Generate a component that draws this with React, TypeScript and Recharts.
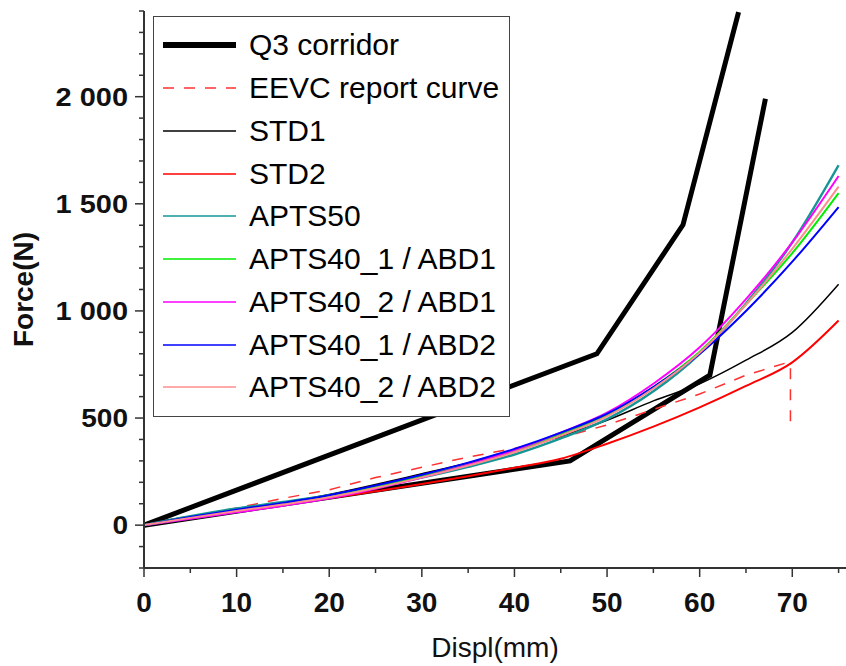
import React from 'react';
import { LineChart, Line, XAxis, YAxis, Legend } from 'recharts';

// ---- data ----
const displ = [0, 5, 10, 15, 20, 25, 30, 35, 40, 45, 50, 55, 60, 65, 70, 75];
const std1 = [0, 38, 72, 105, 143, 190, 240, 290, 345, 415, 490, 580, 660, 770, 900, 1125];
const std2 = [0, 35, 65, 95, 125, 158, 192, 228, 268, 310, 380, 460, 550, 650, 760, 955];
const apts50 = [0, 42, 78, 108, 140, 178, 222, 272, 330, 405, 495, 625, 800, 1035, 1320, 1680];
const apts40_1_abd1 = [0, 36, 70, 100, 135, 178, 228, 283, 346, 425, 515, 645, 810, 1030, 1270, 1550];
const apts40_2_abd1 = [0, 30, 60, 90, 125, 170, 222, 282, 350, 432, 525, 660, 830, 1055, 1320, 1630];
const apts40_1_abd2 = [0, 38, 72, 104, 140, 185, 235, 292, 356, 432, 520, 645, 800, 1000, 1230, 1485];
const apts40_2_abd2 = [0, 34, 66, 96, 130, 173, 223, 278, 340, 418, 508, 638, 805, 1030, 1290, 1580];

const q3UpperX = [0, 48.9, 58.2, 64.2];
const q3UpperF = [0, 800, 1402, 2395];
const q3LowerX = [0, 46, 61.1, 67.1];
const q3LowerF = [0, 300, 700, 1990];

const eevcX = [0, 5, 10, 15, 20, 25, 30, 35, 40, 45, 50, 55, 60, 65, 69.3, 69.8, 69.8];
const eevcF = [0, 38, 80, 125, 165, 222, 270, 318, 358, 408, 468, 540, 612, 700, 757, 750, 448];

const xTicks = [0, 5, 10, 15, 20, 25, 30, 35, 40, 45, 50, 55, 60, 65, 70, 75];
const yTicks = [-200, -100, 0, 100, 200, 300, 400, 500, 600, 700, 800, 900, 1000, 1100, 1200, 1300, 1400, 1500, 1600, 1700, 1800, 1900, 2000, 2100, 2200, 2300, 2400];
const yMajor = [0, 500, 1000, 1500, 2000];
const xMajor = [0, 10, 20, 30, 40, 50, 60, 70];

const seriesNames = [
  'Q3 corridor',
  'EEVC report curve',
  'STD1',
  'STD2',
  'APTS50',
  'APTS40_1 / ABD1',
  'APTS40_2 / ABD1',
  'APTS40_1 / ABD2',
  'APTS40_2 / ABD2',
];

const zip = (xs: number[], ys: number[]) => xs.map((x, i) => ({ x, y: ys[i] }));

const FONT = '"Liberation Sans", Arial, sans-serif';

const legendStyles = [
  { color: '#000000', width: 6, dash: undefined as string | undefined },
  { color: '#ff3030', width: 1.5, dash: '11 10' },
  { color: '#000000', width: 1.5, dash: undefined },
  { color: '#ff0000', width: 1.5, dash: undefined },
  { color: '#169595', width: 1.5, dash: undefined },
  { color: '#00ee00', width: 1.5, dash: undefined },
  { color: '#ff00ff', width: 1.5, dash: undefined },
  { color: '#0000ff', width: 1.5, dash: undefined },
  { color: '#ff8c8c', width: 1.5, dash: undefined },
];

const fmt = (v: number) =>
  v >= 1000 ? `${Math.floor(v / 1000)} ${String(v % 1000).padStart(3, '0')}` : String(v);

const YTick = (props: any) => {
  const { x, y, payload } = props;
  const v = payload.value;
  const major = yMajor.includes(v);
  const label = fmt(v);
  const digits = label.replace(/ /g, '').length;
  const spaces = label.length - digits;
  const len = digits * 15.6 + spaces * 10;
  return (
    <g>
      <line x1={x - (major ? 9 : 5)} x2={x} y1={y} y2={y} stroke="#333" strokeWidth={1.5} />
      {major && (
        <text
          x={x - 16}
          y={y + 9}
          textAnchor="end"
          fontSize={25.5}
          fontWeight="bold"
          fill="#111"
          fontFamily={FONT}
          textLength={len}
          lengthAdjust="spacingAndGlyphs"
        >
          {label}
        </text>
      )}
    </g>
  );
};

const XTick = (props: any) => {
  const { x, y, payload } = props;
  const v = payload.value;
  const major = xMajor.includes(v);
  return (
    <g>
      <line x1={x} x2={x} y1={y} y2={y + (major ? 9 : 5)} stroke="#333" strokeWidth={1.5} />
      {major && (
        <text x={x} y={y + 44} textAnchor="middle" fontSize={28} fontWeight="bold" fill="#111" fontFamily={FONT}>
          {v}
        </text>
      )}
    </g>
  );
};

const YTitle = (props: any) => {
  const vb = props.viewBox || { x: 0, y: 11, width: 144, height: 557 };
  const cx = 33;
  const cy = vb.y + vb.height / 2;
  return (
    <text x={cx} y={cy} transform={`rotate(-90, ${cx}, ${cy})`} textAnchor="middle" fontSize={28} fontWeight="bold" fill="#111" fontFamily={FONT}>
      Force(N)
    </text>
  );
};

const XTitle = (props: any) => {
  const vb = props.viewBox || { x: 144, y: 568, width: 702, height: 98 };
  const cx = vb.x + vb.width / 2;
  return (
    <text x={cx} y={657} textAnchor="middle" fontSize={28} fill="#111" fontFamily={FONT}>
      Displ(mm)
    </text>
  );
};

const LegendBox = () => (
  <div
    style={{
      width: 357,
      height: 401,
      boxSizing: 'border-box',
      border: '1.5px solid #444',
      background: '#fff',
      paddingTop: 7,
      fontFamily: FONT,
    }}
  >
    {seriesNames.map((name, i) => {
      const st = legendStyles[i];
      return (
        <div key={name} style={{ height: 42.75, display: 'flex', alignItems: 'center' }}>
          <svg width={95} height={20} style={{ display: 'block', flex: 'none' }}>
            <line x1={9} x2={82} y1={10} y2={10} stroke={st.color} strokeWidth={st.width} strokeDasharray={st.dash} />
          </svg>
          <span style={{ fontSize: 30, lineHeight: 1, color: '#000', whiteSpace: 'nowrap' }}>{name}</span>
        </div>
      );
    })}
  </div>
);

export default function App() {
  const apts = [apts50, apts40_1_abd1, apts40_2_abd1, apts40_1_abd2, apts40_2_abd2];
  return (
    <div style={{ position: 'absolute', left: 0, top: 0, background: '#fff' }}>
      <LineChart width={846} height={666} margin={{ top: 11, right: 0, bottom: 0, left: 0 }}>
        <XAxis
          type="number"
          dataKey="x"
          domain={[0, 75.8]}
          ticks={xTicks}
          interval={0}
          allowDataOverflow
          tickSize={0}
          tickMargin={0}
          tickLine={false}
          axisLine={{ stroke: '#333', strokeWidth: 2 }}
          tick={<XTick />}
          height={98}
          label={<XTitle />}
        />
        <YAxis
          type="number"
          dataKey="y"
          domain={[-200, 2400]}
          ticks={yTicks}
          interval={0}
          allowDataOverflow
          tickSize={0}
          tickMargin={0}
          tickLine={false}
          axisLine={{ stroke: '#333', strokeWidth: 2 }}
          tick={<YTick />}
          width={144}
          label={<YTitle />}
        />
        <Legend
          layout="horizontal"
          verticalAlign="middle"
          align="center"
          content={<LegendBox />}
          wrapperStyle={{ position: 'absolute', left: 153, top: 16, width: 357, height: 401 }}
        />
        <Line data={zip(q3UpperX, q3UpperF)} dataKey="y" name="Q3 corridor" type="linear" stroke="#000" strokeWidth={5} dot={false} isAnimationActive={false} />
        <Line data={zip(q3LowerX, q3LowerF)} dataKey="y" name="Q3 corridor lower" legendType="none" type="linear" stroke="#000" strokeWidth={5} dot={false} isAnimationActive={false} />
        <Line data={zip(eevcX, eevcF)} dataKey="y" name={seriesNames[1]} type="linear" stroke={legendStyles[1].color} strokeWidth={1.5} strokeDasharray="11 10" dot={false} isAnimationActive={false} />
        <Line data={zip(displ, std1)} dataKey="y" name={seriesNames[2]} type="monotone" stroke={legendStyles[2].color} strokeWidth={1.5} dot={false} isAnimationActive={false} />
        <Line data={zip(displ, std2)} dataKey="y" name={seriesNames[3]} type="monotone" stroke={legendStyles[3].color} strokeWidth={2} dot={false} isAnimationActive={false} />
        {apts.map((arr, i) => (
          <Line
            key={seriesNames[4 + i]}
            data={zip(displ, arr)}
            dataKey="y"
            name={seriesNames[4 + i]}
            type="monotone"
            stroke={legendStyles[4 + i].color}
            strokeWidth={i === 0 ? 2.5 : 2}
            dot={false}
            isAnimationActive={false}
          />
        ))}
      </LineChart>
    </div>
  );
}
